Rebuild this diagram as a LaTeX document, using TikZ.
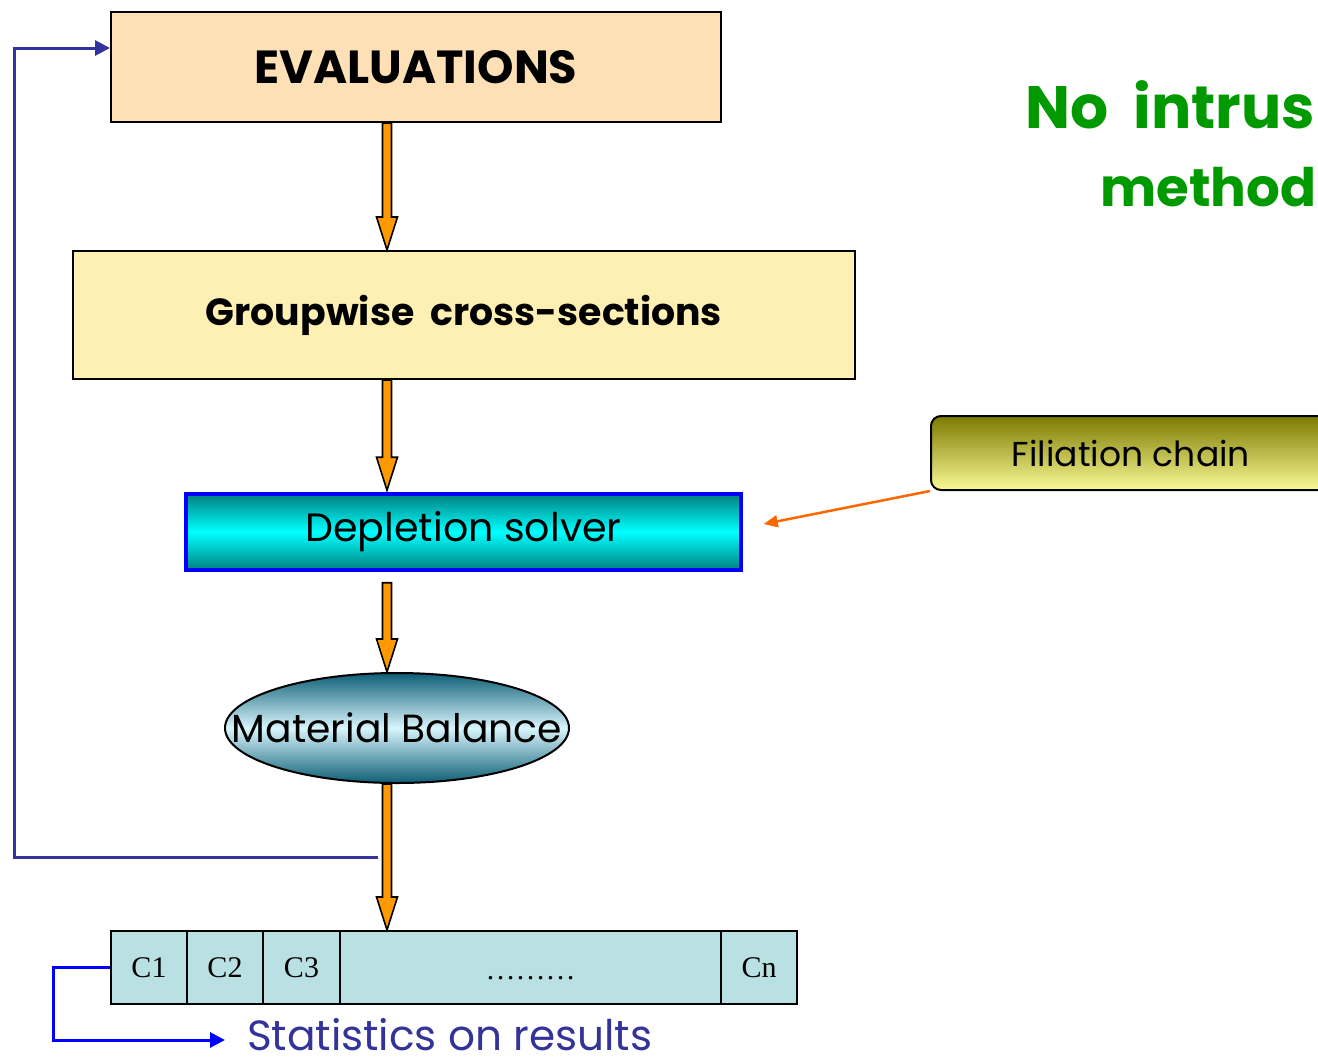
\documentclass[tikz,border=0pt]{standalone}
\usepackage{fontspec}
\setmainfont{Poppins}
\newfontfamily\timesfont{Liberation Serif}
\usetikzlibrary{arrows.meta,calc,shapes.geometric}

\definecolor{evalfill}{RGB}{253,224,181}
\definecolor{groupfill}{RGB}{254,239,179}
\definecolor{solverteal}{RGB}{0,128,128}
\definecolor{solvercyan}{RGB}{0,255,255}
\definecolor{mbdark}{RGB}{14,94,118}
\definecolor{mblight}{RGB}{216,245,252}
\definecolor{filtop}{RGB}{124,122,0}
\definecolor{filbot}{RGB}{250,250,150}
\definecolor{cellfill}{RGB}{185,224,227}
\definecolor{flowor}{RGB}{255,153,0}
\definecolor{feedblue}{RGB}{51,51,160}
\definecolor{statblue}{RGB}{51,51,153}
\definecolor{filorange}{RGB}{255,102,0}
\definecolor{titlegreen}{RGB}{0,153,0}

% thick orange flow arrow with black outline, drawn between two points
\newcommand\fatarrow[2]{%
  \path (#1) coordinate (fas) (#2) coordinate (fae);
  \filldraw[fill=flowor,draw=black,line width=1.6pt,line join=miter]
    ($(fas)+(-4.5,0)$) -- ($(fae)+(-4.5,-33)$) -- ($(fae)+(-10.5,-33)$) --
    (fae) -- ($(fae)+(10.5,-33)$) -- ($(fae)+(4.5,-33)$) --
    ($(fas)+(4.5,0)$) -- cycle;}

\tikzset{
  stage/.style={draw=black,line width=2pt,inner sep=0pt},
  cell/.style={draw=black,line width=2pt,fill=cellfill,minimum height=73pt,
    inner sep=0pt,font=\timesfont\fontsize{30}{36}\selectfont},
  loopline/.style={draw=feedblue,line width=3pt},
  statline/.style={draw=blue,line width=3pt},
  title/.style={anchor=base west,inner sep=0pt,text=titlegreen},
}

\begin{document}
\begin{tikzpicture}[x=1pt,y=-1pt]
\useasboundingbox (0,0) rectangle (1318,1058);
\clip (0,0) rectangle (1318,1058);

\coordinate (axis) at (387,0);

% processing chain
\node[stage,fill=evalfill,minimum width=610pt,minimum height=110pt] (eval) at (416,67)
  {\resizebox{323pt}{!}{\bfseries EVALUATIONS}};
\node[stage,fill=groupfill,minimum width=782pt,minimum height=128pt] (group) at (464,315)
  {\resizebox{516pt}{!}{\bfseries Groupwise\ \ cross-sections}};
\node[draw=blue,line width=3.5pt,inner sep=0pt,minimum width=555pt,minimum height=76pt,
  top color=solverteal,bottom color=solverteal,middle color=solvercyan] (depl) at (463.5,532)
  {\resizebox{316pt}{!}{Depletion solver}};
\node[ellipse,draw=black,line width=2pt,inner sep=0pt,minimum width=344pt,minimum height=110pt,
  top color=mbdark,bottom color=mbdark,middle color=mblight,
  label={[inner sep=0pt]center:\resizebox{330pt}{!}{Material Balance}}] (mb) at (397,728) {};

% result cells
\node[cell,minimum width=76pt] (c1) at (149,967.5) {C1};
\node[cell,minimum width=76pt] (c2) at (225,967.5) {C2};
\node[cell,minimum width=77pt] (c3) at (301.5,967.5) {C3};
\node[cell,minimum width=381pt] (cdots) at (530.5,967.5) {\raisebox{-12pt}[0pt][0pt]{………}};
\node[cell,minimum width=76pt] (cn) at (759,967.5) {Cn};

% flow arrows
\fatarrow{eval.south -| axis}{group.north -| axis}
\fatarrow{group.south -| axis}{$(depl.north -| axis)+(0,-2)$}
\fatarrow{$(depl.south -| axis)+(0,11)$}{mb.north -| axis}
\fatarrow{mb.south -| axis}{c1.north -| axis}

% feedback loop back to the evaluations
\coordinate (fb) at (378,857);
\coordinate (lc) at (14,48);
\draw[loopline,-{Triangle[length=15pt,width=15pt]}] (fb) -| (lc) -- (eval.west |- lc);

% statistics output
\node[text=statblue,inner xsep=22pt,inner ysep=0pt,anchor=west] (stats) at (225,1035)
  {\resizebox{405pt}{!}{Statistics on results}};
\coordinate (sc) at (53,1040);
\draw[statline,-{Triangle[length=15pt,width=15pt]}] (c1.west) -| (sc) -- (stats.west |- sc);

% filiation chain input
\node[draw=black,line width=2pt,rounded corners=10pt,inner sep=0pt,minimum width=400pt,
  minimum height=74pt,top color=filtop,bottom color=filbot] (fil) at (1131,453)
  {\resizebox{238pt}{!}{Filiation chain}};
\coordinate (tip) at ($(depl.east)+(21,-8)$);
\draw[filorange,line width=2.5pt,-{Triangle[length=14pt,width=12pt]}] (fil.south west) -- (tip);

% title
\node[title] (t1) at (1025,128) {\resizebox{290pt}{!}{\bfseries No\ \ intrus}};
\node[title] (t2) at (1100,206) {\resizebox{216pt}{!}{\bfseries method}};
\end{tikzpicture}
\end{document}
